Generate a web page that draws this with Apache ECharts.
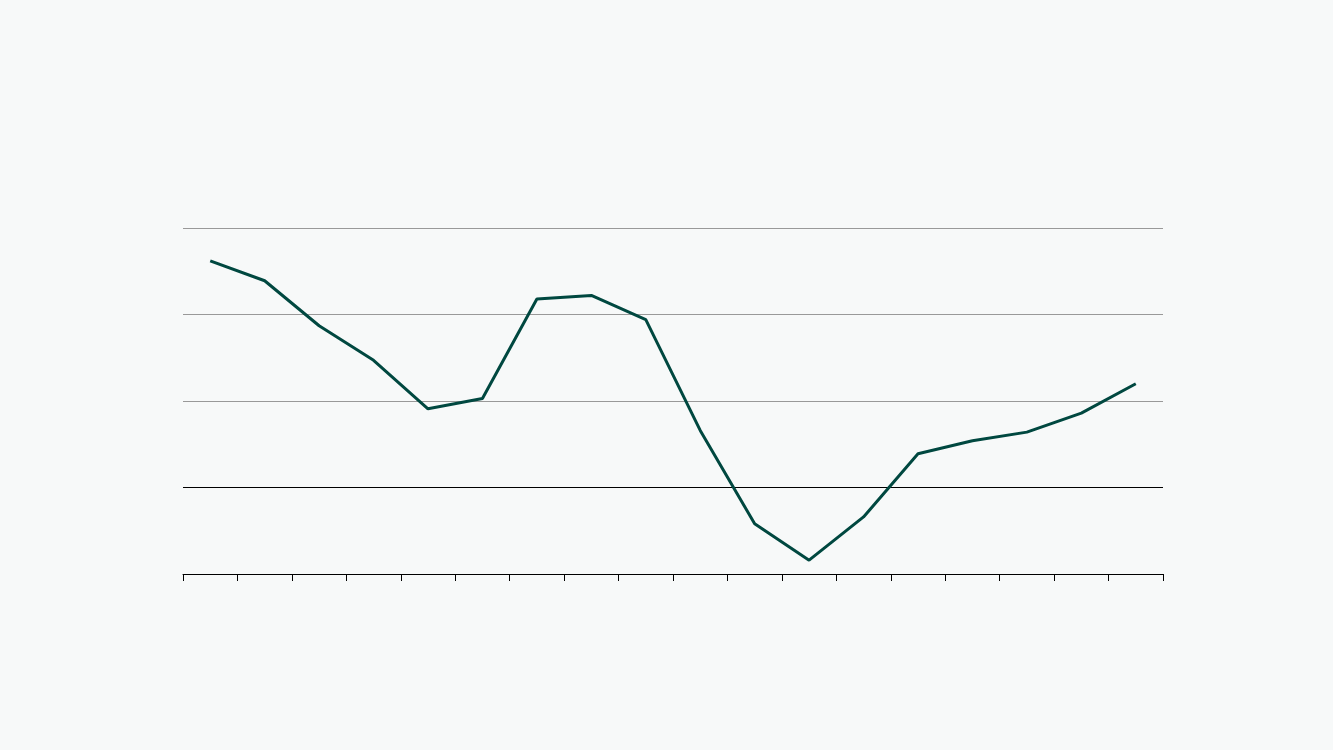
<!DOCTYPE html>
<html>
<head>
<meta charset="utf-8">
<script src="https://cdn.jsdelivr.net/npm/echarts@6/dist/echarts.min.js"></script>
<style>
  html, body { margin: 0; padding: 0; background: #f7f9f9; }
  #chart { width: 1333px; height: 750px; }
</style>
</head>
<body>
<div id="chart"></div>
<script>
// 类目（原图无标签）
const categories = ["1", "2", "3", "4", "5", "6", "7", "8", "9", "10", "11", "12", "13", "14", "15", "16", "17", "18"];
// 折线数值
const values = [2.62, 2.39, 1.87, 1.47, 0.91, 1.03, 2.18, 2.22, 1.94, 0.66, -0.42, -0.84, -0.34, 0.39, 0.54, 0.64, 0.86, 1.20];
// 纵轴范围
const yMin = -1;
const yMax = 3;
const yStep = 1;

const chart = echarts.init(document.getElementById("chart"));

const option = {
  backgroundColor: "#f7f9f9",
  animation: false,
  grid: {
    left: 183,
    right: 170,
    top: 228,
    bottom: 176
  },
  xAxis: {
    type: "category",
    data: categories,
    boundaryGap: true,
    axisLine: {
      show: true,
      onZero: false,
      lineStyle: { color: "#000", width: 1 }
    },
    axisTick: {
      show: true,
      length: 7,
      lineStyle: { color: "#000", width: 1 }
    },
    axisLabel: { show: false },
    splitLine: { show: false }
  },
  yAxis: {
    type: "value",
    min: yMin,
    max: yMax,
    interval: yStep,
    axisLine: { show: false },
    axisTick: { show: false },
    axisLabel: { show: false },
    splitLine: {
      show: true,
      lineStyle: { color: "#999", width: 1 }
    }
  },
  series: [
    {
      type: "line",
      data: values,
      symbol: "none",
      lineStyle: { color: "#004840", width: 3 },
      z: 5,
      markLine: {
        silent: true,
        symbol: "none",
        label: { show: false },
        lineStyle: { color: "#000", width: 1, type: "solid" },
        data: [{ yAxis: 0 }],
        z: 3
      }
    }
  ]
};

chart.setOption(option, true);
</script>
</body>
</html>
